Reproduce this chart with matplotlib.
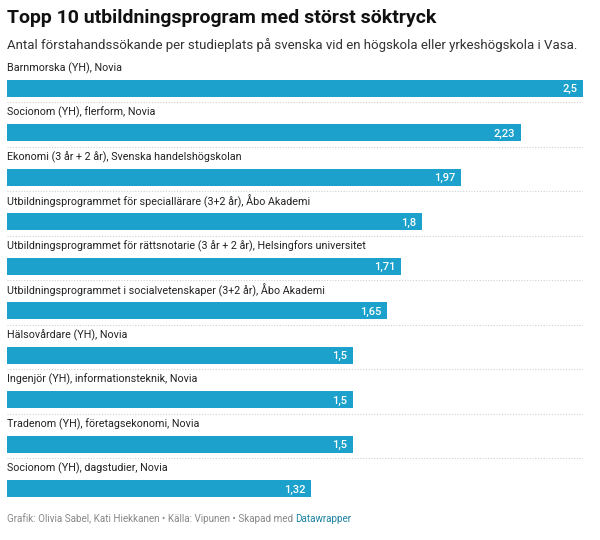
import matplotlib
matplotlib.use('Agg')
import matplotlib.pyplot as plt

# data
programs = [
    "Barnmorska (YH), Novia",
    "Socionom (YH), flerform, Novia",
    "Ekonomi (3 år + 2 år), Svenska handelshögskolan",
    "Utbildningsprogrammet för speciallärare (3+2 år), Åbo Akademi",
    "Utbildningsprogrammet för rättsnotarie (3 år + 2 år), Helsingfors universitet",
    "Utbildningsprogrammet i socialvetenskaper (3+2 år), Åbo Akademi",
    "Hälsovårdare (YH), Novia",
    "Ingenjör (YH), informationsteknik, Novia",
    "Tradenom (YH), företagsekonomi, Novia",
    "Socionom (YH), dagstudier, Novia",
]
values = [2.5, 2.23, 1.97, 1.8, 1.71, 1.65, 1.5, 1.5, 1.5, 1.32]
value_labels = ["2,5", "2,23", "1,97", "1,8", "1,71", "1,65", "1,5", "1,5", "1,5", "1,32"]

title = "Topp 10 utbildningsprogram med störst söktryck"
subtitle = "Antal förstahandssökande per studieplats på svenska vid en högskola eller yrkeshögskola i Vasa."

plt.rcParams['font.family'] = ['Roboto', 'DejaVu Sans']
bar_color = '#1ba1cb'

fig = plt.figure(figsize=(6, 5.4), dpi=100)
W, H = 600, 540

# axes: row i centre at 88.5 + 44.5*i px
top_px, bot_px = 44, 533.5
ax = fig.add_axes([7 / W, 1 - bot_px / H, 576 / W, (bot_px - top_px) / H])
ax.set_xlim(0, 2.5)
ax.set_ylim(10, -1)
ax.axis('off')

bar_h = 17 / 44.5
ypos = list(range(len(values)))
ax.barh(ypos, values, height=bar_h, color=bar_color, zorder=2)

for i, (name, v, lab) in enumerate(zip(programs, values, value_labels)):
    ax.text(0, i - 0.46, name, ha='left', va='center', fontsize=7.75, color='#222222')
    ax.text(v - 0.025, i + 0.02, lab, ha='right', va='center', fontsize=8,
            color='white', fontweight='medium')
    if i < len(values) - 1:
        ax.plot([0, 2.5], [i + 0.31, i + 0.31], color='#d0d0d0', lw=0.8,
                linestyle=(0, (1, 1.5)), zorder=1)

fig.text(7 / W, 1 - 18 / H, title, fontsize=14, fontweight='bold', color='#111111',
         ha='left', va='center')
fig.text(7 / W, 1 - 45 / H, subtitle, fontsize=9.5, color='#333333',
         ha='left', va='center')

foot_y = 1 - 519 / H
t1 = fig.text(7 / W, foot_y, "Grafik: Olivia Sabel, Kati Hiekkanen • Källa: Vipunen • Skapad med ",
              fontsize=7.1, color='#888888', ha='left', va='center')
fig.canvas.draw()
bb = t1.get_window_extent()
fig.text(bb.x1 / W, foot_y, "Datawrapper", fontsize=7.1, color='#1d81a2',
         ha='left', va='center')

fig.savefig('out.png', dpi=100, facecolor='white')
